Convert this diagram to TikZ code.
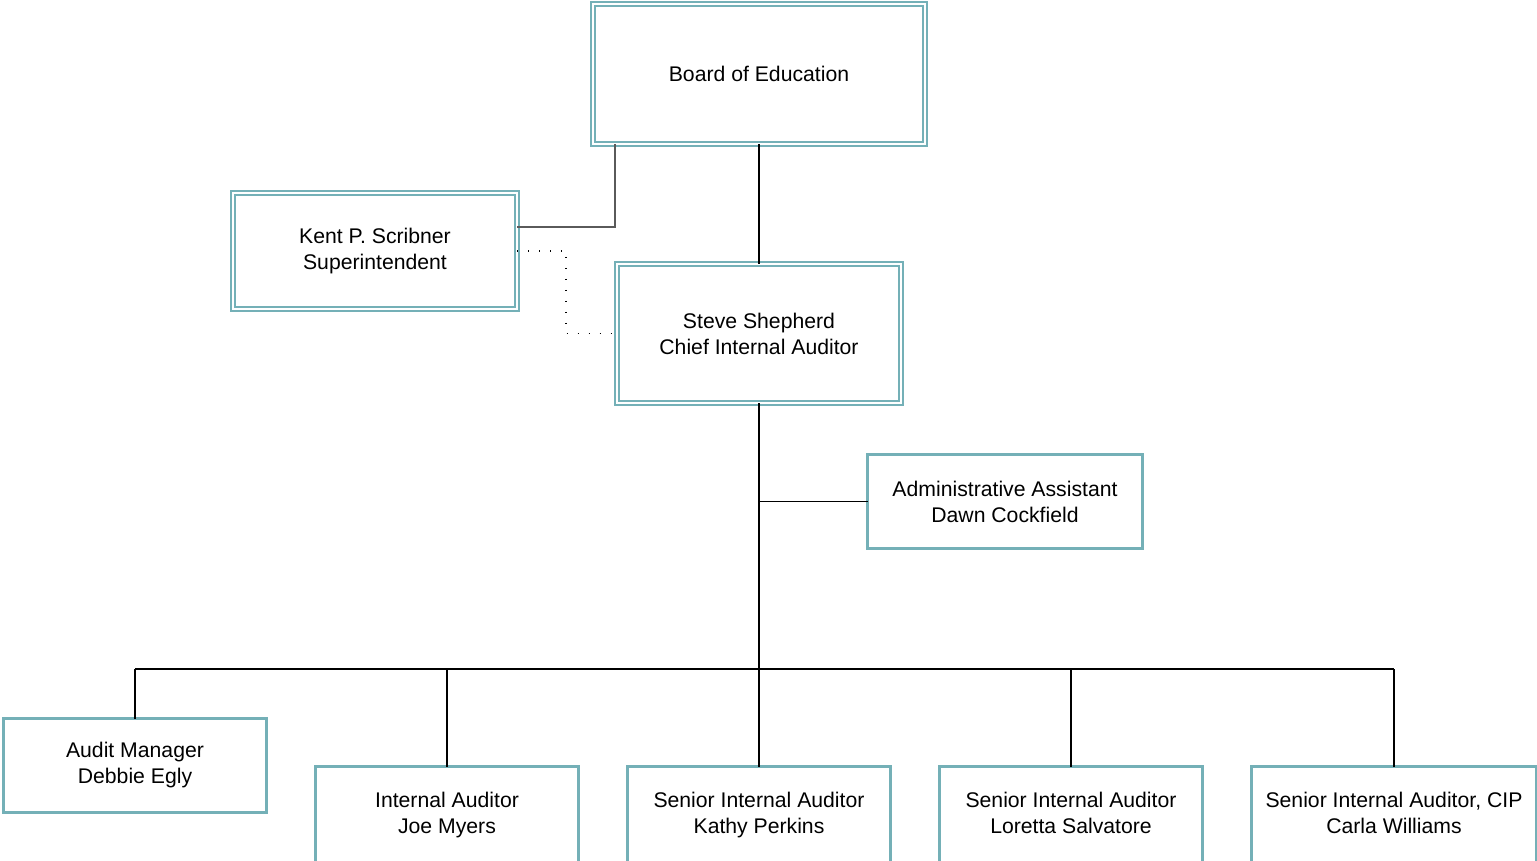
\documentclass[tikz,border=0pt]{standalone}
\usepackage{fontspec}
\setmainfont{Liberation Sans}
\definecolor{frame}{RGB}{116,176,183}
\definecolor{linkgray}{RGB}{90,90,90}
\begin{document}
\begin{tikzpicture}[x=0.5pt,y=-0.5pt,
  txt/.style={align=center,font=\fontsize{10.6}{13}\selectfont},
  box/.style={txt,draw=frame,line width=1.5pt,fill=white,inner sep=0pt,outer sep=0pt},
  dbox/.style={box,line width=1.2pt,double=white,double distance=0.8pt},
  staff/.style={box,minimum width=131.5pt,minimum height=47pt},
  lowbox/.style={box,minimum width=131.5pt,minimum height=55pt},
  lowtext/.style={txt,anchor=north,inner sep=0pt,yshift=-12.5pt},
  thick link/.style={line width=1pt,black},
  thin link/.style={line width=0.6pt,black},
  gray link/.style={line width=0.7pt,linkgray},
  dotline/.style={line width=0.6pt,black,dash pattern=on 0.6pt off 4.9pt}]
\useasboundingbox (0,0) rectangle (1537,861);
\clip (0,0) rectangle (1537,861);

% upper levels
\node[dbox,minimum width=166pt,minimum height=70pt] (board) at (759,74) {Board of Education};
\node[dbox,minimum width=142pt,minimum height=58pt] (kent) at (375,251) {Kent P. Scribner\\Superintendent};
\node[dbox,minimum width=142pt,minimum height=69.5pt] (steve) at (759,333.5) {Steve Shepherd\\Chief Internal Auditor};
\node[staff,minimum width=137.5pt] (admin) at (1005,501.5) {Administrative Assistant\\Dawn Cockfield};

% staff row (boxes run past the lower edge)
\node[staff] (am) at (135,765.5) {Audit Manager\\Debbie Egly};
\node[lowbox,label={[lowtext]north:Internal Auditor\\Joe Myers}] (ia) at (447,821.5) {};
\node[lowbox,label={[lowtext]north:Senior Internal Auditor\\Kathy Perkins}] (kp) at (759,821.5) {};
\node[lowbox,label={[lowtext]north:Senior Internal Auditor\\Loretta Salvatore}] (ls) at (1071,821.5) {};
\node[lowbox,minimum width=142.5pt,label={[lowtext]north:Senior Internal Auditor, CIP\\Carla Williams}] (cw) at (1394,821.5) {};

% routing points
\coordinate (bk) at (615,227);
\coordinate (dk) at (566,0);
\coordinate (bus) at (759,669);

% connectors
\draw[gray link] (board.south -| bk) -- (bk) -- (kent.east |- bk);
\draw[dotline] (kent.east) -- (dk |- kent.east) -- (dk |- steve.west) -- (steve.west);
\draw[thick link] (board.south) -- (steve.north);
\draw[thick link] (steve.south) -- (bus);
\draw[thin link] (steve.south |- admin.west) -- (admin.west);
\draw[thin link] (am.north |- bus) -- (cw.north |- bus);
\draw[thin link] (am.north |- bus) -- (am.north);
\draw[thin link] (ia.north |- bus) -- (ia.north);
\draw[thin link] (bus) -- (kp.north);
\draw[thin link] (ls.north |- bus) -- (ls.north);
\draw[thin link] (cw.north |- bus) -- (cw.north);
\end{tikzpicture}
\end{document}
